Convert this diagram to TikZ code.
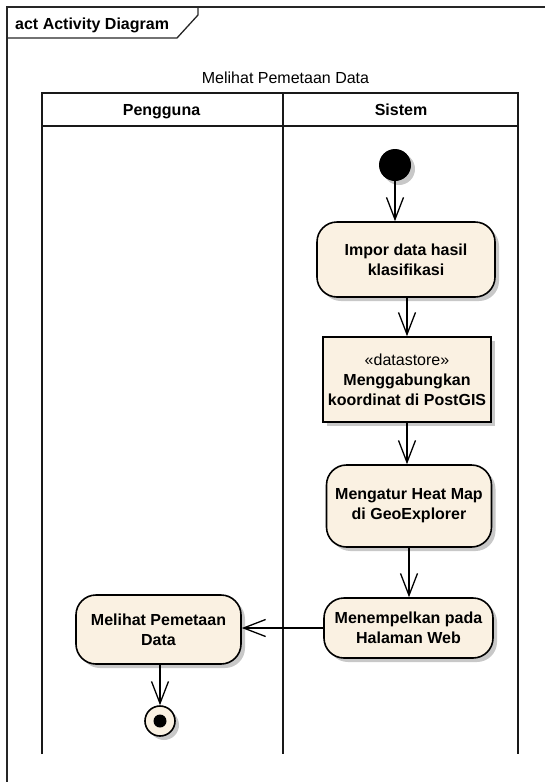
\documentclass[tikz,border=0pt]{standalone}
\usepackage{fontspec}
\setmainfont{Liberation Sans}
\usetikzlibrary{arrows.meta,shadows,positioning}

\definecolor{actfill}{RGB}{250,241,226}
\definecolor{shade}{RGB}{200,200,200}

\tikzset{
  frame/.style={line width=1.3pt, black!85},
  lane/.style={line width=2pt, black!90},
  umlshadow/.style={drop shadow={shadow xshift=4pt, shadow yshift=-4pt, fill=shade, opacity=1}},
  act/.style={draw, line width=1.6pt, fill=actfill, rounded corners=20pt, align=center,
    font=\fontsize{16}{20}\selectfont\bfseries, inner sep=2pt, umlshadow},
  store/.style={act, rounded corners=0pt},
  startnode/.style={circle, fill=black, minimum size=32, inner sep=0pt, umlshadow},
  endnode/.style={circle, draw, line width=1.6pt, fill=actfill, minimum size=30, inner sep=0pt, umlshadow},
  flow/.style={-{Straight Barb[length=22pt,width=17pt]}, line width=1.3pt},
  headfont/.style={font=\fontsize{16}{20}\selectfont\bfseries},
  plainfont/.style={font=\fontsize{16}{20}\selectfont}
}

\begin{document}
\begin{tikzpicture}[x=1pt,y=-1pt]
\useasboundingbox (0,0) rectangle (545,782);
% frame
\draw[frame] (545,7) -- (7,7) -- (7,782);
\draw[frame] (7,38) -- (177,38) -- (198,15) -- (198,7);
\node[anchor=base west, headfont, inner sep=0pt] (title) at (15,29) {act Activity Diagram};

% partitions
\node[anchor=base, plainfont, inner sep=0pt] (part) at (285.5,83) {Melihat Pemetaan Data};
\draw[lane] (42,754) -- (42,93) -- (518,93) -- (518,754);
\draw[lane] (42,126) -- (518,126);
\draw[lane] (283,93) -- (283,754);
\node[anchor=base, headfont, inner sep=0pt] (user) at (161.5,115) {Pengguna};
\node[anchor=base, headfont, inner sep=0pt] (sys) at (401,115) {Sistem};

% nodes
\node[startnode] (start) at (395,165) {};
\node[act, minimum width=178, minimum height=75] (impor) at (406,259.5) {Impor data hasil\\klasifikasi};
\node[store, minimum width=168, minimum height=85] (store) at (407,379.5)
  {{\mdseries «datastore»}\\Menggabungkan\\koordinat di PostGIS};
\node[act, minimum width=165, minimum height=82] (atur) at (409,506) {Mengatur Heat Map\\di GeoExplorer};
\node[act, minimum width=169, minimum height=60] (tempel) at (408.5,628) {Menempelkan pada\\Halaman Web};
\node[act, minimum width=165, minimum height=69] (lihat) at (158.5,629.5) {Melihat Pemetaan\\Data};
\node[endnode] (end) at (160,721) {};
\fill (end) circle (6.5);

% flows
\draw[flow] (start) -- (start |- impor.north);
\draw[flow] (store |- impor.south) -- (store.north);
\draw[flow] (store.south) -- (store.south |- atur.north);
\draw[flow] (atur.south) -- (atur.south |- tempel.north);
\draw[flow] (tempel.west) -- (tempel.west -| lihat.east);
\draw[flow] (lihat.south -| end) -- (end.north);
\end{tikzpicture}
\end{document}
